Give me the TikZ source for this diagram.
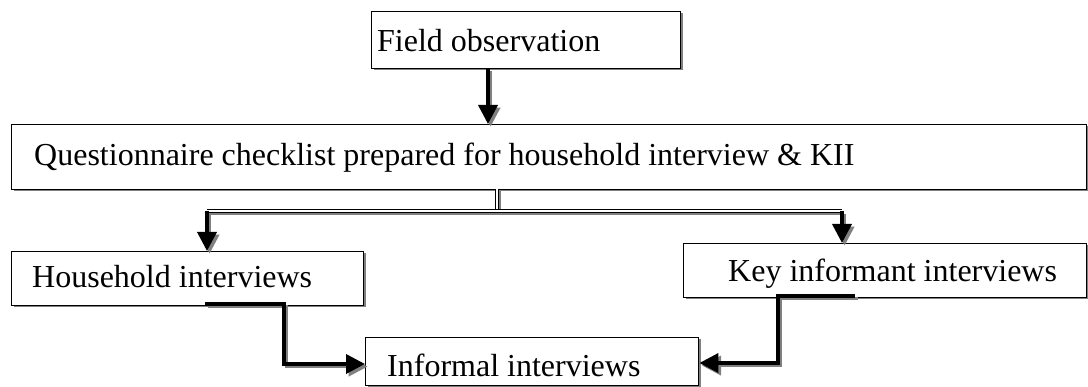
\documentclass[tikz,border=0pt]{standalone}
\usepackage{fontspec}
\setmainfont{Liberation Serif}
\usetikzlibrary{arrows.meta}
\begin{document}
\begin{tikzpicture}[x=1pt,y=-1pt,
  box/.style={draw=black,line width=1.4pt,fill=white,inner sep=0pt,anchor=north west,
    preaction={fill=black!50,transform canvas={shift={(1.8pt,-1.8pt)}}}},
  txt/.style={anchor=base west,inner sep=0pt,font=\fontsize{32}{38}\selectfont},
  conn/.style={draw=black,line width=3.6pt,
    preaction={draw=black!50,line width=3.6pt,transform canvas={shift={(2.6pt,-2.6pt)}}}},
  tip/.style={-{Triangle[length=19pt,width=19pt]}},
  dbl/.style={draw=black,line width=1.1pt,double=white,double distance=2.2pt,
    preaction={draw=black!50,line width=4.4pt,transform canvas={shift={(1.8pt,-1.8pt)}}}}
]
\useasboundingbox (0,0) rectangle (1088,387);
% boxes
\node[box,minimum width=309pt,minimum height=57pt] (fo) at (371,11) {};
\node[box,minimum width=1075pt,minimum height=65pt] (q) at (11,124) {};
\node[box,minimum width=352pt,minimum height=54pt] (h) at (11,251) {};
\node[box,minimum width=403pt,minimum height=54pt] (k) at (683,243) {};
\node[box,minimum width=333pt,minimum height=48pt] (inf) at (365,337) {};
% texts
\node[txt] (fot) at (377,52) {Field observation};
\node[txt] (qt) at (34,166) {Questionnaire checklist prepared for household interview \& KII};
\node[txt] (ht) at (32,288) {Household interviews};
\node[txt] (kt) at (728,282) {Key informant interviews};
\node[txt] (it) at (387,377) {Informal interviews};
% connector coordinates
\coordinate (fa) at (488,68);
\coordinate (jt) at (497,189);
\coordinate (jm) at (497,211);
\coordinate (hl) at (207,211);
\coordinate (kr) at (842,211);
\coordinate (ha) at (205,304);
\coordinate (hb) at (284,364);
\coordinate (ka) at (855,296);
\coordinate (kb) at (778,363);
% connectors
\draw[conn,tip] (fa) -- (fa |- q.north);
\draw[dbl] (jt) -- (jm);
\draw[dbl] (hl) -- (kr);
\draw[conn,tip] (hl) -- (hl |- h.north);
\draw[conn,tip] (kr) -- (kr |- k.north);
\draw[conn,tip] (ha) -| (hb) -- (hb -| inf.west);
\draw[conn,tip] (ka) -| (kb) -- (kb -| inf.east);
\end{tikzpicture}
\end{document}
